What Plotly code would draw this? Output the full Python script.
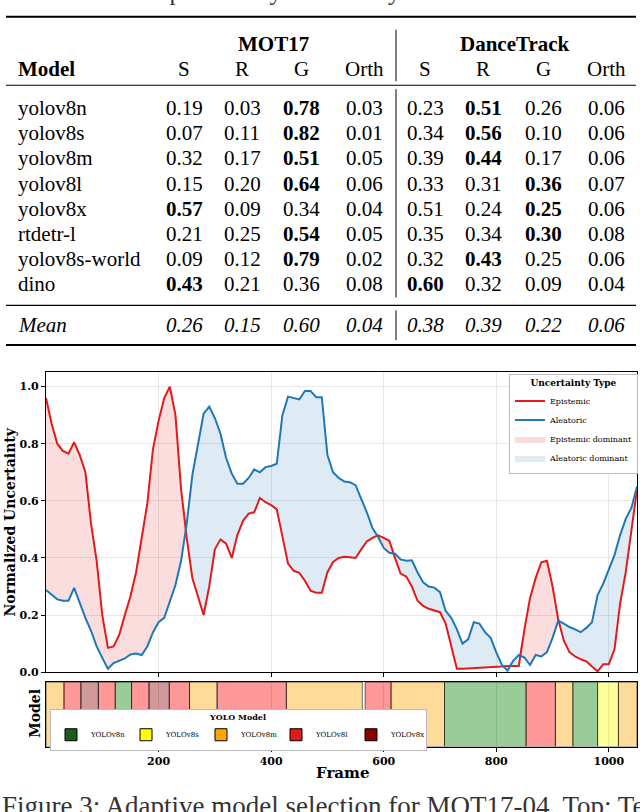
import plotly.graph_objects as go

W, H = 640, 812

# ---------------- table data ----------------
table_models = ["yolov8n", "yolov8s", "yolov8m", "yolov8l", "yolov8x",
                "rtdetr-l", "yolov8s-world", "dino"]
table_cols = ["S", "R", "G", "Orth"]
mot17_vals = [[0.19, 0.03, 0.78, 0.03], [0.07, 0.11, 0.82, 0.01],
              [0.32, 0.17, 0.51, 0.05], [0.15, 0.20, 0.64, 0.06],
              [0.57, 0.09, 0.34, 0.04], [0.21, 0.25, 0.54, 0.05],
              [0.09, 0.12, 0.79, 0.02], [0.43, 0.21, 0.36, 0.08]]
mot17_bold = [2, 2, 2, 2, 0, 2, 2, 0]
dance_vals = [[0.23, 0.51, 0.26, 0.06], [0.34, 0.56, 0.10, 0.06],
              [0.39, 0.44, 0.17, 0.06], [0.33, 0.31, 0.36, 0.07],
              [0.51, 0.24, 0.25, 0.06], [0.35, 0.34, 0.30, 0.08],
              [0.32, 0.43, 0.25, 0.06], [0.60, 0.32, 0.09, 0.04]]
dance_bold = [1, 1, 1, 2, 2, 2, 1, 0]
mot17_mean = [0.26, 0.15, 0.60, 0.04]
dance_mean = [0.38, 0.39, 0.22, 0.06]

# ---------------- uncertainty curves ----------------
frames = list(range(0, 1051, 10))
epistemic = [0.96, 0.87, 0.80, 0.775, 0.765, 0.805, 0.76, 0.70, 0.52, 0.39,
             0.20, 0.085, 0.09, 0.13, 0.20, 0.265, 0.35, 0.47, 0.59, 0.78,
             0.88, 0.96, 1.00, 0.90, 0.64, 0.47, 0.33, 0.265, 0.20, 0.30,
             0.43, 0.465, 0.45, 0.40, 0.48, 0.53, 0.555, 0.56, 0.61, 0.595,
             0.585, 0.57, 0.47, 0.38, 0.355, 0.348, 0.32, 0.285, 0.278, 0.278,
             0.35, 0.386, 0.40, 0.404, 0.402, 0.40, 0.43, 0.458, 0.47, 0.479,
             0.47, 0.46, 0.40, 0.345, 0.335, 0.30, 0.25, 0.232, 0.222, 0.217,
             0.21, 0.17, 0.09, 0.012, 0.012, 0.013, 0.013, 0.014, 0.015, 0.016,
             0.017, 0.02, 0.022, 0.022, 0.022, 0.15, 0.26, 0.33, 0.385, 0.39,
             0.30, 0.185, 0.11, 0.07, 0.055, 0.045, 0.038, 0.02, 0.003, 0.028,
             0.028, 0.08, 0.24, 0.35, 0.50, 0.64]
aleatoric = [0.288, 0.27, 0.255, 0.25, 0.25, 0.295, 0.24, 0.19, 0.145, 0.09,
             0.05, 0.012, 0.032, 0.04, 0.048, 0.062, 0.065, 0.06, 0.09, 0.139,
             0.175, 0.19, 0.248, 0.305, 0.39, 0.52, 0.69, 0.80, 0.905, 0.93,
             0.89, 0.835, 0.75, 0.695, 0.66, 0.66, 0.68, 0.71, 0.70, 0.718,
             0.722, 0.73, 0.90, 0.965, 0.96, 0.955, 0.985, 0.985, 0.963, 0.963,
             0.76, 0.70, 0.68, 0.668, 0.665, 0.655, 0.607, 0.56, 0.505, 0.473,
             0.435, 0.418, 0.415, 0.395, 0.39, 0.392, 0.35, 0.315, 0.30, 0.296,
             0.28, 0.215, 0.19, 0.15, 0.10, 0.115, 0.175, 0.17, 0.14, 0.12,
             0.069, 0.025, 0.005, 0.04, 0.06, 0.051, 0.025, 0.06, 0.055, 0.07,
             0.12, 0.18, 0.17, 0.158, 0.15, 0.14, 0.155, 0.175, 0.27, 0.31,
             0.36, 0.41, 0.48, 0.537, 0.575, 0.65]

# ---------------- selected model per frame range ----------------
seg_start = [0, 32, 62, 93, 123, 152, 183, 219, 255, 304, 427, 567, 613, 708, 853, 905, 936, 980, 1017]
seg_end = [32, 62, 93, 123, 152, 183, 219, 255, 304, 427, 562, 613, 708, 853, 905, 936, 980, 1017, 1050]
seg_model = ["YOLOv8m", "YOLOv8l", "YOLOv8x", "YOLOv8l", "YOLOv8n", "YOLOv8l", "YOLOv8x",
             "YOLOv8l", "YOLOv8m", "YOLOv8l", "YOLOv8m", "YOLOv8l", "YOLOv8m", "YOLOv8n",
             "YOLOv8l", "YOLOv8m", "YOLOv8n", "YOLOv8s", "YOLOv8m"]
model_names = ["YOLOv8n", "YOLOv8s", "YOLOv8m", "YOLOv8l", "YOLOv8x"]

# styles
strip_colors = {"YOLOv8n": "rgba(0,128,0,0.4)", "YOLOv8s": "rgba(255,255,0,0.4)",
                "YOLOv8m": "rgba(255,165,0,0.4)", "YOLOv8l": "rgba(255,0,0,0.4)",
                "YOLOv8x": "rgba(139,0,0,0.4)"}
legend_colors = {"YOLOv8n": "#1b5e1b", "YOLOv8s": "#ffff00", "YOLOv8m": "#ffa500",
                 "YOLOv8l": "#e31a1c", "YOLOv8x": "#8b0000"}
RED = "#e31a1c"
BLUE = "#1f78b4"
SERIF = "Liberation Serif"
DJ = "DejaVu Serif"


def px(x):
    return x / W


def py(y):
    return 1 - y / H


fig = go.Figure()

# fill between the curves
upper = [max(e, a) for e, a in zip(epistemic, aleatoric)]
fig.add_trace(go.Scatter(x=frames, y=aleatoric, mode="lines", line=dict(width=0),
                         showlegend=False, hoverinfo="skip"))
fig.add_trace(go.Scatter(x=frames, y=upper, mode="lines", line=dict(width=0),
                         fill="tonexty", fillcolor="rgba(227,26,28,0.15)",
                         name="Epistemic dominant", legendrank=3))
fig.add_trace(go.Scatter(x=frames, y=epistemic, mode="lines", line=dict(width=0),
                         showlegend=False, hoverinfo="skip"))
fig.add_trace(go.Scatter(x=frames, y=upper, mode="lines", line=dict(width=0),
                         fill="tonexty", fillcolor="rgba(31,120,180,0.15)",
                         name="Aleatoric dominant", legendrank=4))
fig.add_trace(go.Scatter(x=frames, y=epistemic, mode="lines", line=dict(color=RED, width=2),
                         name="Epistemic", legendrank=1))
fig.add_trace(go.Scatter(x=frames, y=aleatoric, mode="lines", line=dict(color=BLUE, width=2),
                         name="Aleatoric", legendrank=2))

# model strip
for m in model_names:
    idx = [i for i, s in enumerate(seg_model) if s == m]
    fig.add_trace(go.Bar(
        x=[seg_end[i] - seg_start[i] for i in idx], base=[seg_start[i] for i in idx],
        y=[0] * len(idx), orientation="h", width=1, xaxis="x2", yaxis="y2",
        marker=dict(color=strip_colors[m], line=dict(color="rgba(0,0,0,0.55)", width=1)),
        showlegend=False, hoverinfo="skip"))
for m in model_names:
    fig.add_trace(go.Bar(
        x=[None], y=[None], orientation="h", xaxis="x2", yaxis="y2", name=m,
        marker=dict(color=legend_colors[m], line=dict(color="black", width=1)),
        legend="legend2"))

# ---------------- table as text ----------------
ann = []
shapes = []
mot_x = [184, 242, 301, 364]
dance_x = [425, 483, 543, 606]
row_y = [109 + 25.4 * i for i in range(len(table_models))]
mean_y = 328


def txt(x, y, s, size=21, anchor="center", family=SERIF):
    ann.append(dict(x=px(x), y=py(y), xref="paper", yref="paper", text=s, showarrow=False,
                    xanchor=anchor, yanchor="middle", font=dict(family=family, size=size, color="black")))


txt(273, 44, "<b>MOT17</b>")
txt(515, 44, "<b>DanceTrack</b>")
txt(16, 70, "<b>Model</b>", anchor="left")
for c, x in zip(table_cols, mot_x):
    txt(x, 70, c)
for c, x in zip(table_cols, dance_x):
    txt(x, 70, c)
for r, name in enumerate(table_models):
    txt(16, row_y[r], name, anchor="left")
    for j in range(4):
        v = "%.2f" % mot17_vals[r][j]
        txt(mot_x[j], row_y[r], "<b>%s</b>" % v if mot17_bold[r] == j else v)
        v = "%.2f" % dance_vals[r][j]
        txt(dance_x[j], row_y[r], "<b>%s</b>" % v if dance_bold[r] == j else v)
txt(16, mean_y, "<i>Mean</i>", anchor="left")
for j in range(4):
    txt(mot_x[j], mean_y, "<i>%.2f</i>" % mot17_mean[j])
    txt(dance_x[j], mean_y, "<i>%.2f</i>" % dance_mean[j])


def hline(y, w):
    shapes.append(dict(type="line", xref="paper", yref="paper", x0=px(6), x1=px(636),
                       y0=py(y), y1=py(y), line=dict(color="black", width=w)))


def vline(y0, y1):
    shapes.append(dict(type="line", xref="paper", yref="paper", x0=px(396), x1=px(396),
                       y0=py(y0), y1=py(y1), line=dict(color="black", width=1)))


hline(17, 2)
hline(86, 1.2)
hline(308, 1.2)
hline(348, 2)
vline(30, 82)
vline(90, 300)
vline(313, 343)

# captions (cut by the page edge)
ann.append(dict(x=px(260), y=py(7), xref="paper", yref="paper", showarrow=False,
                text="ance and complementary uncertainty sources.", xanchor="center", yanchor="bottom",
                font=dict(family=SERIF, size=25, color="#333")))
ann.append(dict(x=px(0), y=py(796), xref="paper", yref="paper", showarrow=False,
                text="Figure 3: Adaptive model selection for MOT17-04. Top: Temporal",
                xanchor="left", yanchor="top", font=dict(family=SERIF, size=27, color="#333")))

# axis titles
ann.append(dict(x=px(10), y=py(527), xref="paper", yref="paper", showarrow=False,
                xanchor="center", yanchor="middle",
                text="<b>Normalized Uncertainty</b>", textangle=-90,
                font=dict(family=DJ, size=14, color="black")))
ann.append(dict(x=px(35), y=py(720), xref="paper", yref="paper", showarrow=False,
                xanchor="center", yanchor="middle",
                text="<b>Model</b>", textangle=-90, font=dict(family=DJ, size=14, color="black")))
ann.append(dict(x=px(342), y=py(780), xref="paper", yref="paper", showarrow=False,
                xanchor="center", yanchor="middle",
                text="<b>Frame</b>", font=dict(family=DJ, size=15, color="black")))

grid = "rgba(0,0,0,0.09)"
tickfont = dict(family=DJ, size=11, color="black", weight="bold")
fig.update_layout(
    width=W, height=H, margin=dict(l=0, r=0, t=0, b=0),
    paper_bgcolor="white", plot_bgcolor="white", barmode="overlay",
    annotations=ann, shapes=shapes,
    xaxis=dict(domain=[px(46), px(637)], range=[0, 1050], tickvals=[200, 400, 600, 800, 1000],
               showticklabels=False, ticks="outside", ticklen=4, tickcolor="black",
               showgrid=True, gridcolor=grid, showline=True, mirror=True,
               linecolor="black", linewidth=1.2, zeroline=False),
    yaxis=dict(domain=[py(678), py(375)], range=[0, 1.052], tickvals=[0, 0.2, 0.4, 0.6, 0.8, 1.0],
               tickformat=".1f", tickfont=tickfont, ticks="outside", ticklen=4, tickcolor="black",
               showgrid=True, gridcolor=grid, showline=True, mirror=True,
               linecolor="black", linewidth=1.2, zeroline=False),
    xaxis2=dict(domain=[px(46), px(637)], range=[0, 1050], anchor="y2",
                tickvals=[200, 400, 600, 800, 1000], tickfont=tickfont, ticks="outside",
                ticklen=4, tickcolor="black", showgrid=True, gridcolor="rgba(0,0,0,0.12)",
                showline=True, mirror=True, linecolor="black", linewidth=1.2, zeroline=False),
    yaxis2=dict(domain=[py(753), py(688)], range=[-0.5, 0.5], anchor="x2",
                showticklabels=False, showgrid=False, showline=True, mirror=True,
                linecolor="black", linewidth=1.2, zeroline=False),
    legend=dict(x=px(509), y=py(377), xanchor="left", yanchor="top", bgcolor="white",
                bordercolor="#bbbbbb", borderwidth=1, tracegroupgap=0, traceorder="normal",
                font=dict(family=DJ, size=8, color="black"),
                title=dict(text="<b>Uncertainty Type</b>", side="top center",
                           font=dict(family=DJ, size=9, color="black"))),
    legend2=dict(x=px(50), y=py(715), xanchor="left", yanchor="top", orientation="h",
                 bgcolor="white", bordercolor="#bbbbbb", borderwidth=1, traceorder="normal",
                 entrywidth=30, entrywidthmode="pixels", itemwidth=30,
                 font=dict(family=DJ, size=7, color="black"),
                 title=dict(text="<b>YOLO Model</b>", side="top center",
                            font=dict(family=DJ, size=8, color="black"))),
)

fig.write_html("out.html", config={"displayModeBar": False},
               post_script="document.body.style.margin='0px';")
